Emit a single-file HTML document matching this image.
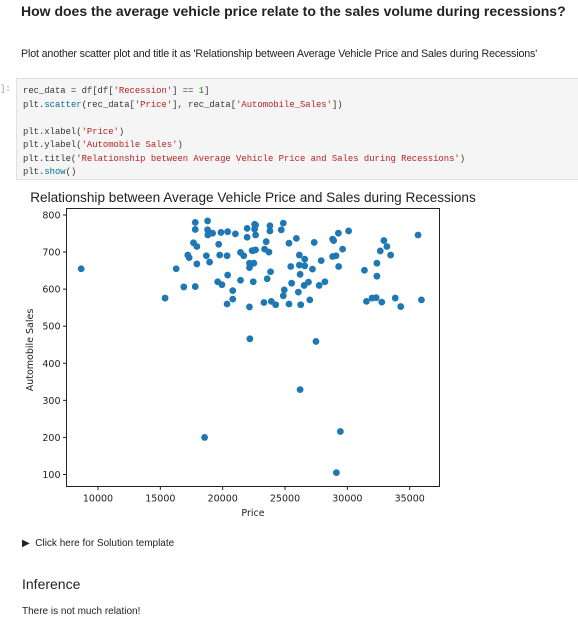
<!DOCTYPE html>
<html><head><meta charset="utf-8">
<style>
body{margin:0;width:578px;height:625px;background:#fff;font-family:"Liberation Sans",sans-serif;position:relative;overflow:hidden}
.a{position:absolute;white-space:nowrap}
.code{position:absolute;left:16px;top:78px;width:570px;height:102px;background:#f5f5f5;border:1px solid #e0e0e0;font-family:"Liberation Mono",monospace;font-size:8.9px;line-height:13.5px;color:#333;padding:6px 0 0 6px;box-sizing:border-box}
.s{color:#ba2121}.k{color:#008000}.n{color:#080}.f{color:#0070a0}
</style></head><body>
<div class="a" style="left:21px;top:3px;font-size:14px;font-weight:bold;color:#222">How does the average vehicle price relate to the sales volume during recessions?</div>
<div class="a" style="left:21px;top:48px;font-size:10.7px;color:#222;letter-spacing:-0.15px">Plot another scatter plot and title it as 'Relationship between Average Vehicle Price and Sales during Recessions'</div>
<div class="a" style="left:0;top:84px;font-family:'Liberation Mono',monospace;font-size:9px;color:#999">]:</div>
<div class="code">rec_data = df[df[<span class="s">'Recession'</span>] == <span class="n">1</span>]<br>plt.<span class="f">scatter</span>(rec_data[<span class="s">'Price'</span>], rec_data[<span class="s">'Automobile_Sales'</span>])<br><br>plt.xlabel(<span class="s">'Price'</span>)<br>plt.ylabel(<span class="s">'Automobile Sales'</span>)<br>plt.title(<span class="s">'Relationship between Average Vehicle Price and Sales during Recessions'</span>)<br>plt.<span class="f">show</span>()</div>
<svg id="chart" class="a" style="left:0;top:180px" width="578" height="340" viewBox="0 180 578 340"></svg>
<div class="a" style="left:22px;top:538px;font-size:10px;color:#222">▶&nbsp; Click here for Solution template</div>
<div class="a" style="left:22px;top:576px;font-size:14px;color:#222">Inference</div>
<div class="a" style="left:22px;top:606px;font-size:10px;color:#222">There is not much relation!</div>
<script>
const prices=[8650,17800,18790,17800,18790,19190,18810,19860,20400,21020,21960,21960,22640,22640,17660,17930,19680,17200,17310,18690,19760,20350,21430,21690,22420,22640,17930,18950,22150,22500,22150,16270,20400,19600,19940,21430,22450,16880,17800,20810,15380,20810,20350,22150,22180,22560,22560,23790,23790,24860,24700,23490,25320,25910,27340,28820,28900,29280,30100,35670,32930,33170,32640,33470,29620,22360,23360,23710,26150,26580,28820,29090,27900,26150,26580,25460,27200,29300,32370,31370,32370,23840,26210,23570,25530,26530,26880,27740,28200,24940,26070,24860,26990,23310,23900,24250,25320,26260,31530,31980,32310,32760,33840,34280,35940,27480,26210,18550,29440,29120];
const sales=[655,780,784,761,760,751,746,753,755,749,764,740,773,746,725,715,721,692,685,690,692,690,699,690,704,706,668,673,670,670,658,655,638,620,612,624,620,606,607,596,576,573,560,552,466,775,762,771,757,778,760,728,724,737,726,735,731,751,757,746,731,715,703,692,708,704,708,700,692,681,688,690,677,665,663,661,654,661,670,651,635,647,640,628,616,610,619,610,620,598,592,582,571,564,567,558,560,558,567,576,577,565,576,553,571,459,329,200,216,105];
const xTicks=[10000,15000,20000,25000,30000,35000];
const yTicks=[100,200,300,400,500,600,700,800];
const L=66.5,R=439.5,T=208.5,B=486.5;
const X=v=>98+(v-10000)*(311.7/25000);
const Y=v=>474.5-(v-100)*(259.5/700);
const svg=document.getElementById('chart');const NS='http://www.w3.org/2000/svg';
function mk(t,a,txt){const e=document.createElementNS(NS,t);for(const k in a)e.setAttribute(k,a[k]);if(txt!=null)e.textContent=txt;svg.appendChild(e);return e;}
let e=mk('text',{x:253,y:202,'text-anchor':'middle','font-size':13.6,fill:'#222','font-family':'Liberation Sans'},'Relationship between Average Vehicle Price and Sales during Recessions');


prices.forEach((p,i)=>{const c=mk('circle',{cx:X(p),cy:Y(sales[i]),r:3.4,fill:'#1f77b4'});

});
e=mk('rect',{x:L,y:T,width:R-L,height:B-T,fill:'none',stroke:'#222','stroke-width':1});


xTicks.forEach(v=>{mk('line',{x1:X(v),x2:X(v),y1:B,y2:B+3.5,stroke:'#222'});
const t=mk('text',{x:X(v),y:B+15,'text-anchor':'middle','font-size':9.5,fill:'#222','font-family':'DejaVu Sans'},v);

});
yTicks.forEach(v=>{mk('line',{x1:L,x2:L-3.5,y1:Y(v),y2:Y(v),stroke:'#222'});
const t=mk('text',{x:L-6,y:Y(v)+3.5,'text-anchor':'end','font-size':9.5,fill:'#222','font-family':'DejaVu Sans'},v);

});
e=mk('text',{x:253,y:516,'text-anchor':'middle','font-size':9.5,fill:'#222','font-family':'DejaVu Sans'},'Price');


e=mk('text',{x:0,y:0,'text-anchor':'middle','font-size':9.5,fill:'#222','font-family':'DejaVu Sans',transform:'translate(33,350) rotate(-90)'},'Automobile Sales');


</script>
</body></html>
